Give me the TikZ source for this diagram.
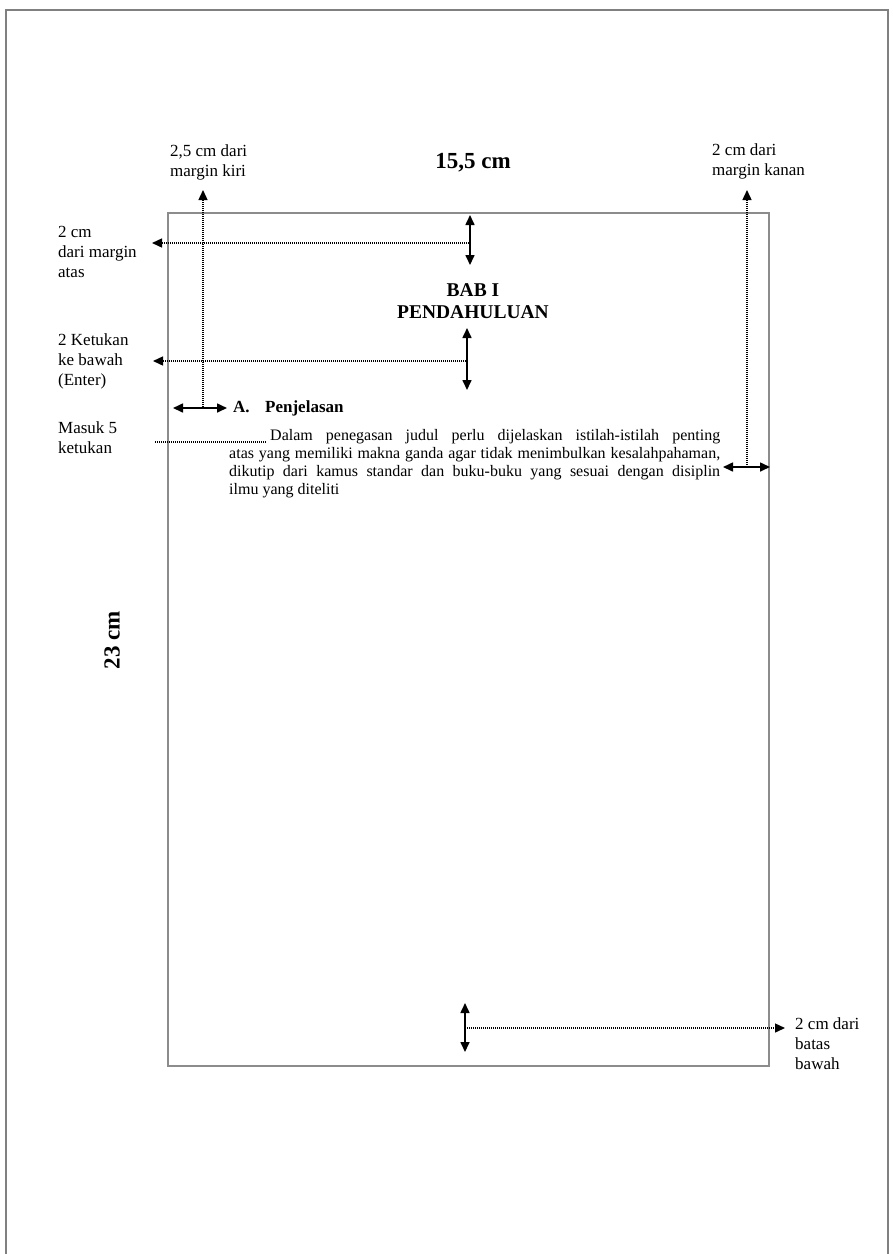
\documentclass[tikz,border=0pt]{standalone}
\usepackage{fontspec}
\setmainfont{Liberation Serif}
\usetikzlibrary{arrows.meta}
\begin{document}
\begin{tikzpicture}[x=1pt,y=-1pt,
  lbl/.style={anchor=west,inner sep=0pt,align=left,font=\fontsize{17}{20}\selectfont},
  bigb/.style={inner sep=0pt,font=\fontsize{23}{26}\selectfont\bfseries},
  tip/.style={-{Triangle[length=10pt,width=9pt]}},
  dbl/.style={{Triangle[length=10pt,width=9pt]}-{Triangle[length=10pt,width=9pt]},line width=1.6pt},
  dots/.style={line width=1.4pt,dash pattern=on 1pt off 1pt},
  frame/.style={draw=black!45,line width=1.8pt}]
\useasboundingbox (0,0) rectangle (893,1254);
% outer page frame
\draw[frame,draw=black!50,line width=1.5pt] (6,1262) -- (6,10) -- (888,10) -- (888,1262);
% inner text area
\draw[frame] (168,213) rectangle (769,1066);

% titles
\node[bigb] (width) at (473,163) {15,5 cm};
\node[bigb,rotate=90] (height) at (112,640) {23 cm};
\node[inner sep=0pt,align=center,font=\fontsize{19.5}{22}\selectfont\bfseries] (bab) at (473,301) {BAB I\\PENDAHULUAN};

% labels
\node[lbl] (lkiri) at (170,162.5) {2,5 cm dari\\margin kiri};
\node[lbl] (lkanan) at (712,161) {2 cm dari\\margin kanan};
\node[lbl] (latas) at (58,252) {2 cm\\dari margin\\atas};
\node[lbl] (lenter) at (58,361) {2 Ketukan\\ke bawah\\(Enter)};
\node[lbl] (lmasuk) at (58,437.5) {Masuk 5\\ketukan};
\node[lbl] (lbawah) at (795,1044) {2 cm dari\\batas\\bawah};

% heading A
\node[anchor=west,inner sep=0pt,font=\fontsize{17}{20}\selectfont\bfseries] (headA) at (233,408) {\makebox[32pt][l]{A.}Penjelasan};

% paragraph
\node[anchor=north west,inner sep=0pt,text width=491pt,align=justify,
  font=\fontsize{16}{18}\selectfont] (para) at (229,429)
  {\hspace*{41pt}Dalam penegasan judul perlu dijelaskan istilah-istilah penting\linebreak
   atas yang memiliki makna ganda agar tidak menimbulkan kesalahpahaman,\linebreak
   dikutip dari kamus standar dan buku-buku yang sesuai dengan disiplin\linebreak
   ilmu yang diteliti};

% coordinates
\coordinate (kiriTop) at (203,190);
\coordinate (kiriBot) at (203,407);
\coordinate (aL) at (173,408);
\coordinate (aR) at (227,408);
\coordinate (t1) at (470,215);
\coordinate (t2) at (470,265);
\coordinate (t1m) at (469,243);
\coordinate (atasTip) at (152,243);
\coordinate (e1) at (467,328);
\coordinate (e2) at (467,390);
\coordinate (e1m) at (466,361);
\coordinate (enterTip) at (153,361);
\coordinate (kananTop) at (747,190);
\coordinate (kananBot) at (747,467);
\coordinate (kL) at (723,467);
\coordinate (kR) at (770,467);
\coordinate (b1) at (465,1003);
\coordinate (b2) at (465,1052);
\coordinate (b1m) at (467,1028);
\coordinate (bawahTip) at (785,1028);
\coordinate (mL) at (155,442);
\coordinate (mR) at (267,442);

% connectors
\draw[dots,tip] (kiriBot) -- (kiriTop);
\draw[dbl] (aL) -- (aR);
\draw[dbl] (t1) -- (t2);
\draw[dots,tip] (t1m) -- (atasTip);
\draw[dbl] (e1) -- (e2);
\draw[dots,tip] (e1m) -- (enterTip);
\draw[dots,tip] (kananBot) -- (kananTop);
\draw[dbl] (kL) -- (kR);
\draw[dbl] (b1) -- (b2);
\draw[dots,tip] (b1m) -- (bawahTip);
\draw[dots] (mL) -- (mR);
\end{tikzpicture}
\end{document}
